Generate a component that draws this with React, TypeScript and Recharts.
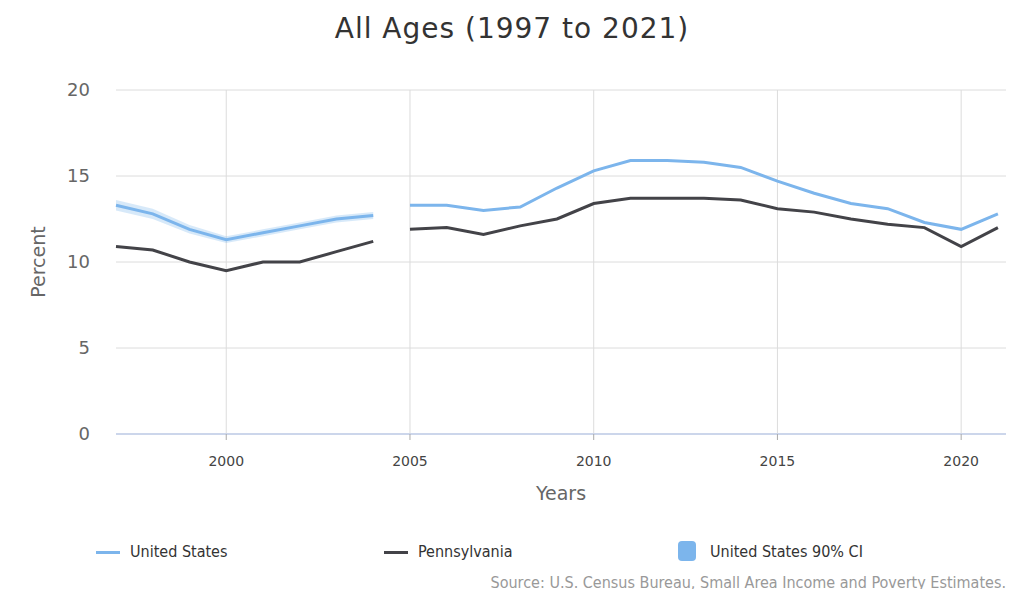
import React from 'react';
import { ComposedChart, Line, Area, XAxis, YAxis, CartesianGrid, Label } from 'recharts';

const years = [1997, 1998, 1999, 2000, 2001, 2002, 2003, 2004, 2005, 2006, 2007, 2008, 2009, 2010, 2011, 2012, 2013, 2014, 2015, 2016, 2017, 2018, 2019, 2020, 2021];
const usValues = [13.3, 12.8, 11.9, 11.3, 11.7, 12.1, 12.5, 12.7, 13.3, 13.3, 13.0, 13.2, 14.3, 15.3, 15.9, 15.9, 15.8, 15.5, 14.7, 14.0, 13.4, 13.1, 12.3, 11.9, 12.8];
const paValues = [10.9, 10.7, 10.0, 9.5, 10.0, 10.0, 10.6, 11.2, 11.9, 12.0, 11.6, 12.1, 12.5, 13.4, 13.7, 13.7, 13.7, 13.6, 13.1, 12.9, 12.5, 12.2, 12.0, 10.9, 12.0];
// 90% CI only published for the early years
const usLow = [13.0, 12.5, 11.65, 11.1, 11.5, 11.9, 12.3, 12.5];
const usHigh = [13.6, 13.1, 12.15, 11.5, 11.9, 12.3, 12.7, 12.9];
const breakAfter = 2004;
const xTicks = [2000, 2005, 2010, 2015, 2020];
const yTicks = [0, 5, 10, 15, 20];
const xDomain = [1997, 2021.22];

const US_COLOR = '#7cb5ec';
const PA_COLOR = '#434348';
const FONT = '"DejaVu Sans", sans-serif';
const NARROW = '"DejaVu Sans Condensed", "Liberation Sans Narrow", "DejaVu Sans", sans-serif';

const data: any[] = [];
years.forEach((year, i) => {
  data.push({
    year,
    us: usValues[i],
    pa: paValues[i],
    ci: i < usLow.length ? [usLow[i], usHigh[i]] : null,
  });
  if (year === breakAfter) {
    data.push({ year: year + 0.5, us: null, pa: null, ci: null });
  }
});

// only draw vertical grid lines at the year ticks, not at the plot edges
const verticalLines = (props: any) => {
  const { xAxis, offset } = props;
  if (xAxis && typeof xAxis.scale === 'function') {
    return xTicks.map((t) => xAxis.scale(t));
  }
  return xTicks.map((t) => offset.left + ((t - xDomain[0]) / (xDomain[1] - xDomain[0])) * offset.width);
};

const App: React.FC = () => {
  return (
    <div style={{ position: 'relative', width: 1024, height: 597, margin: -8, background: '#fff', overflow: 'hidden' }}>
      <div style={{ position: 'absolute', top: 12, left: 0, width: 1024, textAlign: 'center', fontFamily: FONT, fontSize: 28, letterSpacing: 1, color: '#333' }}>
        All Ages (1997 to 2021)
      </div>
      <div style={{ position: 'absolute', top: 0, left: 0 }}>
        <ComposedChart width={1024} height={597} data={data} margin={{ top: 90, right: 18, bottom: 133, left: 56 }}>
          <CartesianGrid stroke="#dcdcdc" vertical={true} horizontal={true} verticalCoordinatesGenerator={verticalLines} />
          <XAxis
            dataKey="year"
            type="number"
            domain={xDomain}
            ticks={xTicks}
            height={30}
            tickSize={6}
            tickMargin={16}
            stroke="#ccd6eb"
            tick={{ fill: '#444', fontSize: 14, fontFamily: FONT }}
            axisLine={{ stroke: '#ccd6eb', strokeWidth: 2 }}
            tickLine={{ stroke: '#aaa' }}
          >
            <Label value="Years" position="insideBottom" offset={-36} style={{ fill: '#666', fontSize: 19, fontFamily: FONT }} />
          </XAxis>
          <YAxis
            type="number"
            domain={[0, 20]}
            ticks={yTicks}
            width={60}
            axisLine={false}
            tickLine={false}
            tickSize={0}
            tickMargin={26}
            tick={{ fill: '#666', fontSize: 18, fontFamily: FONT }}
          >
            <Label value="Percent" angle={-90} position="insideLeft" offset={-18} style={{ fill: '#666', fontSize: 19, fontFamily: FONT, textAnchor: 'middle' }} />
          </YAxis>
          <Area dataKey="ci" stroke="none" fill={US_COLOR} fillOpacity={0.3} isAnimationActive={false} connectNulls={false} />
          <Line dataKey="us" stroke={US_COLOR} strokeWidth={3} dot={false} isAnimationActive={false} connectNulls={false} />
          <Line dataKey="pa" stroke={PA_COLOR} strokeWidth={3} dot={false} isAnimationActive={false} connectNulls={false} />
        </ComposedChart>
      </div>
      <div style={{ position: 'absolute', top: 542, left: 0, width: 1024, height: 22, fontFamily: NARROW, fontSize: 16, color: '#333' }}>
        <div style={{ position: 'absolute', left: 96, top: 9, width: 24, height: 3, background: US_COLOR }} />
        <div style={{ position: 'absolute', left: 130, top: 0 }}>United States</div>
        <div style={{ position: 'absolute', left: 384, top: 9, width: 24, height: 3, background: PA_COLOR }} />
        <div style={{ position: 'absolute', left: 418, top: 0 }}>Pennsylvania</div>
        <div style={{ position: 'absolute', left: 678, top: -1, width: 18, height: 20, borderRadius: 4, background: US_COLOR }} />
        <div style={{ position: 'absolute', left: 710, top: 0 }}>United States 90% CI</div>
      </div>
      <div style={{ position: 'absolute', top: 573, right: 18, fontFamily: NARROW, fontSize: 16, color: '#999' }}>
        Source: U.S. Census Bureau, Small Area Income and Poverty Estimates.
      </div>
    </div>
  );
};

export default App;
